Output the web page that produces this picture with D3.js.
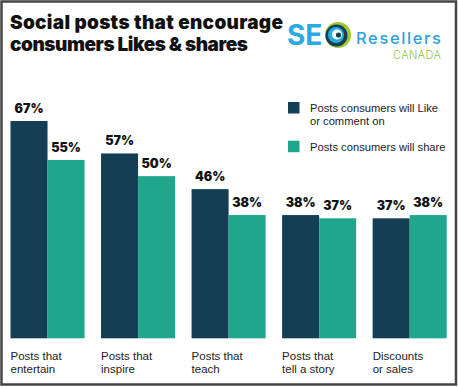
<!DOCTYPE html>
<html>
<head>
<meta charset="utf-8">
<script src="https://cdn.jsdelivr.net/npm/d3@7"></script>
<style>
  body { margin: 0; background: #fff; }
  svg { display: block; }
</style>
</head>
<body>
<svg id="chart"></svg>
<script>
// data
var categories = [
  ["Posts that", "entertain"],
  ["Posts that", "inspire"],
  ["Posts that", "teach"],
  ["Posts that", "tell a story"],
  ["Discounts", "or sales"]
];
var likeValues = [67, 57, 46, 38, 37];
var shareValues = [55, 50, 38, 37, 38];
var seriesNames = ["Posts consumers will Like|or comment on", "Posts consumers will share"];
var titleLines = ["Social posts that encourage", "consumers Likes & shares"];

var w = 458, h = 388;
var colors = ["#133e53", "#20a68c"];

var svg = d3.select("#chart").attr("width", w).attr("height", h);

// frame
svg.append("rect")
  .attr("x", 1.5).attr("y", 1.5)
  .attr("width", 454.5).attr("height", 383)
  .attr("fill", "#fff")
  .attr("stroke", "#454545")
  .attr("stroke-width", 2.5);

// title
svg.append("text")
  .attr("font-family", "Inter, sans-serif")
  .attr("font-weight", 900)
  .attr("font-size", 19)
  .attr("fill", "#111")
  .selectAll("tspan")
  .data(titleLines)
  .join("tspan")
  .attr("x", 10)
  .attr("y", function (d, i) { return 28.5 + i * 22.5; })
  .attr("textLength", function (d, i) { return i == 0 ? 273 : 238; })
  .text(function (d) { return d; });

// logo
var logo = svg.append("g");
logo.append("text")
  .attr("x", 287).attr("y", 45)
  .attr("font-family", "Inter, sans-serif")
  .attr("font-weight", 700)
  .attr("font-size", 28)
  .attr("fill", "#29abe2")
  .text("SE");
var o = logo.append("g").attr("transform", "translate(338,35)");
o.append("circle").attr("r", 13).attr("fill", "#9cc935");
o.append("circle").attr("r", 11).attr("cx", -1.5).attr("cy", 0.5).attr("fill", "#1b3d52");
o.append("circle").attr("r", 8).attr("cx", -2).attr("cy", 0).attr("fill", "#29abe2");
o.append("circle").attr("r", 5).attr("cx", -1).attr("cy", -0.5).attr("fill", "#fff");
o.append("circle").attr("r", 2.6).attr("cx", 0.5).attr("cy", 0).attr("fill", "#1b3d52");
logo.append("text")
  .attr("x", 356).attr("y", 44)
  .attr("font-family", "Inter, sans-serif")
  .attr("font-weight", 500)
  .attr("font-size", 16.5)
  .attr("fill", "#2aa3dc")
  .attr("textLength", 85)
  .text("Resellers");
logo.append("text")
  .attr("x", 393).attr("y", 58.5)
  .attr("font-family", "Inter, sans-serif")
  .attr("font-weight", 300)
  .attr("font-size", 11)
  .attr("fill", "#8dc63f")
  .attr("textLength", 48)
  .text("CANADA");

// scales
var x = d3.scaleBand()
  .domain(d3.range(categories.length))
  .range([10.5, 446.7])
  .paddingInner(0.182)
  .paddingOuter(0);

var xs = d3.scaleBand()
  .domain([0, 1])
  .range([0, x.bandwidth()]);

var y = d3.scaleLinear()
  .domain([0, 100])
  .range([338.3, 14]);

var rows = categories.map(function (c, i) {
  return { i: i, vals: [likeValues[i], shareValues[i]] };
});

var groups = svg.selectAll(".grp")
  .data(rows)
  .join("g")
  .attr("class", "grp")
  .attr("transform", function (d) { return "translate(" + x(d.i) + ",0)"; });

groups.selectAll("rect")
  .data(function (d) { return d.vals; })
  .join("rect")
  .attr("x", function (d, j) { return xs(j); })
  .attr("y", function (d) { return y(d); })
  .attr("width", xs.bandwidth())
  .attr("height", function (d) { return y(0) - y(d); })
  .attr("fill", function (d, j) { return colors[j]; });

groups.selectAll(".val")
  .data(function (d) { return d.vals; })
  .join("text")
  .attr("class", "val")
  .attr("x", function (d, j) { return xs(j) + xs.bandwidth() / 2; })
  .attr("y", function (d) { return y(d) - 8; })
  .attr("text-anchor", "middle")
  .attr("font-family", "Inter, sans-serif")
  .attr("font-weight", 900)
  .attr("font-size", 12.5)
  .attr("fill", "#111")
  .text(function (d) { return d + "%"; });

// category labels
var catText = groups.append("text")
  .attr("font-family", "'Liberation Sans', Arial, sans-serif")
  .attr("font-size", 11.5)
  .attr("fill", "#222");
catText.selectAll("tspan")
  .data(function (d) { return categories[d.i]; })
  .join("tspan")
  .attr("x", 0)
  .attr("y", function (d, i) { return 360 + i * 13.4; })
  .text(function (d) { return d; });

// legend
var legend = svg.append("g").attr("transform", "translate(288,102)");
var items = legend.selectAll("g")
  .data(seriesNames)
  .join("g")
  .attr("transform", function (d, i) { return "translate(0," + (i * 38.7) + ")"; });
items.append("rect")
  .attr("width", 11.5).attr("height", 11.5)
  .attr("fill", function (d, i) { return colors[i]; });
items.append("text")
  .attr("font-family", "'Liberation Sans', Arial, sans-serif")
  .attr("font-size", 11.2)
  .attr("fill", "#222")
  .selectAll("tspan")
  .data(function (d) { return d.split("|"); })
  .join("tspan")
  .attr("x", 22)
  .attr("y", function (d, i) { return 10 + i * 13.4; })
  .text(function (d) { return d; });
</script>
</body>
</html>
